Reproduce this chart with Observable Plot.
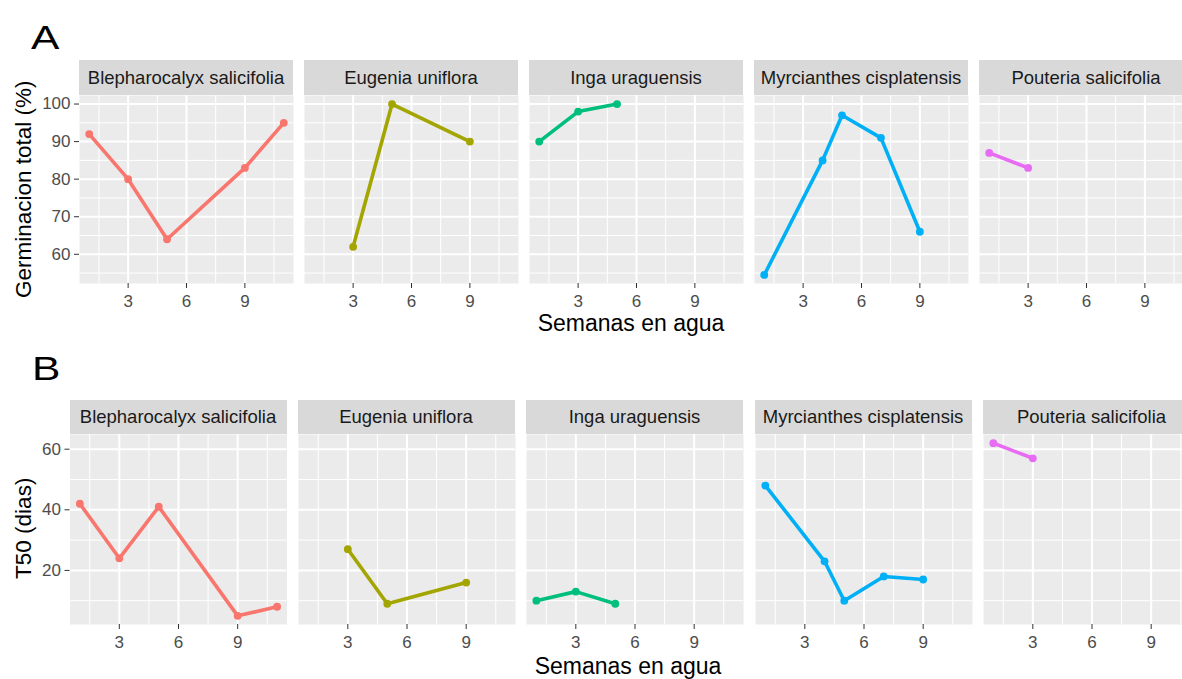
<!DOCTYPE html>
<html>
<head>
<meta charset="utf-8">
<script src="https://cdn.jsdelivr.net/npm/d3@7"></script>
<script src="https://cdn.jsdelivr.net/npm/@observablehq/plot@0.6"></script>
<style>
  html, body { margin: 0; padding: 0; background: #fff; }
  body { width: 1182px; height: 679px; overflow: hidden; position: relative;
         font-family: "Liberation Sans", Arial, sans-serif; }
  .abs { position: absolute; }
  .strip { background: #D9D9D9; color: #1A1A1A; font-size: 18.5px; display: flex;
           align-items: center; justify-content: center; white-space: nowrap; overflow: hidden; }
  .tag { font-size: 34px; line-height: 1; color: #000; transform-origin: left top; transform: scaleX(1.25); }
  .xtitle { font-size: 23px; line-height: 1; color: #000; white-space: nowrap; text-align: center; width: 400px; }
  .ytitle { font-size: 22.5px; line-height: 1; color: #000; white-space: nowrap; text-align: center; width: 400px;
            transform: rotate(-90deg); }
  svg { overflow: visible; }
</style>
</head>
<body>
<script>
// ---- data ----
const species = ["Blepharocalyx salicifolia", "Eugenia uniflora", "Inga uraguensis", "Myrcianthes cisplatensis", "Pouteria salicifolia"];
const colors = ["#F8766D", "#A3A500", "#00BF7D", "#00B0F6", "#E76BF3"];
const weeks = [[1, 3, 5, 9, 11], [3, 5, 9], [1, 3, 5], [1, 4, 5, 7, 9], [1, 3]];
const germination = [[92, 80, 64, 83, 95], [62, 100, 90], [90, 98, 100], [54.5, 85, 97, 91, 66], [87, 83]];
const t50 = [[42, 24, 41, 5, 8], [27, 9, 16], [10, 13, 9], [48, 23, 10, 18, 17], [62, 57]];
const xTicks = [3, 6, 9];
const xMinor = [1.5, 4.5, 7.5, 10.5];
const yTicksA = [60, 70, 80, 90, 100];
const yMinorA = [55, 65, 75, 85, 95];
const yTicksB = [20, 40, 60];
const yMinorB = [10, 30, 50];
const xDomain = [0.5, 11.5];

// ---- layout ----
const rows = [
  { tag: "A", values: germination, yTicks: yTicksA, yMinor: yMinorA, yLabel: "Germinacion total (%)",
    tagTop: 20, tagLeft: 31, stripTop: 60, stripH: 35, panelH: 188,
    lefts: [79, 304, 529, 754, 979], panelW: 214, yTitleX: 24, xTitleTop: 312, xTitleX: 631 },
  { tag: "B", values: t50, yTicks: yTicksB, yMinor: yMinorB, yLabel: "T50 (dias)",
    tagTop: 351, tagLeft: 32, stripTop: 400, stripH: 33.5, panelH: 190,
    lefts: [69.5, 297.5, 526, 754.5, 983], panelW: 217, yTitleX: 24, xTitleTop: 655, xTitleX: 628 }
];

function el(cls, text, css) {
  const d = document.createElement("div");
  d.className = "abs " + cls;
  d.textContent = text;
  Object.assign(d.style, css);
  document.body.appendChild(d);
  return d;
}

const font = "'Liberation Sans', Arial, sans-serif";

rows.forEach(row => {
  const all = row.values.flat();
  const [lo, hi] = d3.extent(all);
  const pad = (hi - lo) * 0.05;
  const yDomain = [lo - pad, hi + pad];

  el("tag", row.tag, { left: row.tagLeft + "px", top: row.tagTop + "px" });

  species.forEach((sp, i) => {
    const data = weeks[i].map((w, j) => ({ w, v: row.values[i][j] }));
    const first = i === 0;
    const ml = first ? row.lefts[0] : 0;
    const svgLeft = first ? 0 : row.lefts[i];
    const panelTop = row.stripTop + row.stripH;

    el("strip", sp, { left: row.lefts[i] + "px", top: row.stripTop + "px",
      width: row.panelW + "px", height: row.stripH + "px" });

    const plot = Plot.plot({
      width: row.panelW + ml,
      height: row.panelH + 32,
      marginLeft: ml, marginRight: 0, marginTop: 0, marginBottom: 32,
      x: { domain: xDomain, label: null, axis: null },
      y: { domain: yDomain, label: null, axis: null },
      style: { fontFamily: font, fontSize: "17px", background: "transparent", overflow: "visible" },
      marks: [
        Plot.frame({ fill: "#EBEBEB", stroke: "none" }),
        Plot.gridX(xMinor, { stroke: "#FFFFFF", strokeOpacity: 1, strokeWidth: 1 }),
        Plot.gridY(row.yMinor, { stroke: "#FFFFFF", strokeOpacity: 1, strokeWidth: 1 }),
        Plot.gridX(xTicks, { stroke: "#FFFFFF", strokeOpacity: 1, strokeWidth: 2 }),
        Plot.gridY(row.yTicks, { stroke: "#FFFFFF", strokeOpacity: 1, strokeWidth: 2 }),
        Plot.line(data, { x: "w", y: "v", stroke: colors[i], strokeWidth: 3.6 }),
        Plot.dot(data, { x: "w", y: "v", fill: colors[i], r: 3.9 }),
        Plot.axisX(xTicks, { tickSize: 5, tickPadding: 6, stroke: "#333333", fill: "#4D4D4D",
          fontSize: 17, label: null }),
        first ? Plot.axisY(row.yTicks, { tickSize: 5, tickPadding: 4, stroke: "#333333", fill: "#4D4D4D",
          fontSize: 17, label: null }) : null
      ]
    });
    plot.style.position = "absolute";
    plot.style.left = svgLeft + "px";
    plot.style.top = panelTop + "px";
    plot.style.maxWidth = "none";
    document.body.appendChild(plot);
  });

  // axis titles
  const panelTop = row.stripTop + row.stripH;
  const cy = panelTop + row.panelH / 2;
  el("ytitle", row.yLabel, { left: (row.yTitleX - 200) + "px", top: (cy - 11.25) + "px" });
  el("xtitle", "Semanas en agua", { left: (row.xTitleX - 200) + "px", top: row.xTitleTop + "px" });
});
</script>
</body>
</html>
